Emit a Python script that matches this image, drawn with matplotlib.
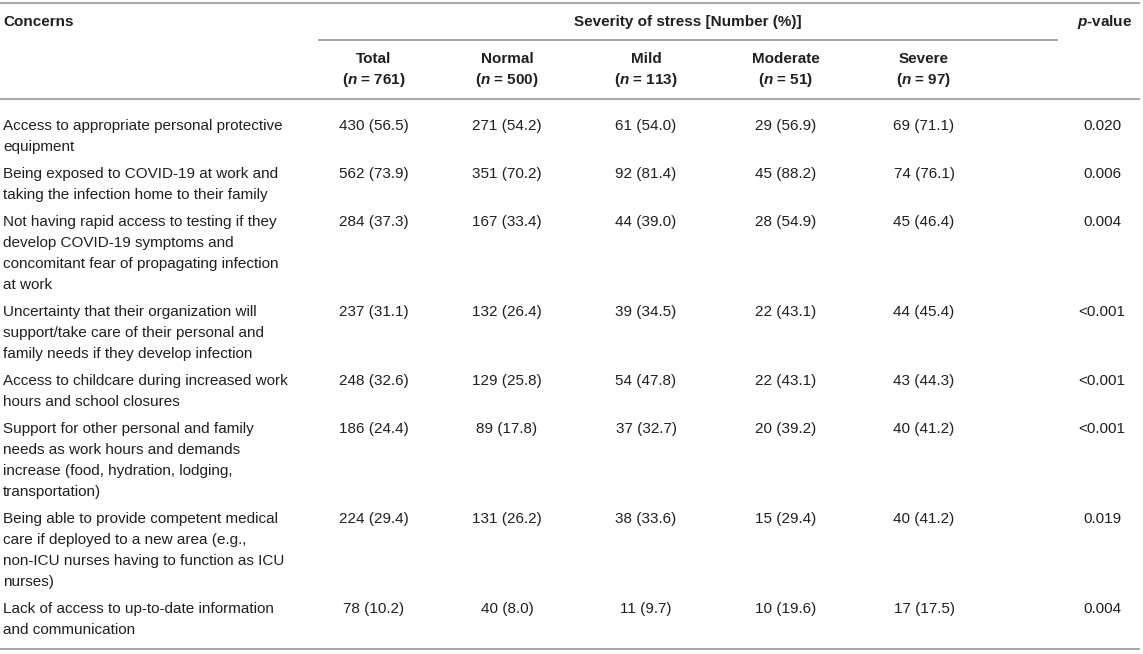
import matplotlib
matplotlib.use("Agg")
import matplotlib.pyplot as plt

plt.rcParams['font.family'] = ['Liberation Sans', 'DejaVu Sans']
plt.rcParams['mathtext.fontset'] = 'custom'
plt.rcParams['mathtext.it'] = 'Liberation Sans:italic:bold'
plt.rcParams['mathtext.rm'] = 'Liberation Sans:bold'
plt.rcParams['mathtext.bf'] = 'Liberation Sans:bold'

# ---------------- data ----------------
concerns = [
    ["Access to appropriate personal protective", "equipment"],
    ["Being exposed to COVID-19 at work and", "taking the infection home to their family"],
    ["Not having rapid access to testing if they", "develop COVID-19 symptoms and",
     "concomitant fear of propagating infection", "at work"],
    ["Uncertainty that their organization will", "support/take care of their personal and",
     "family needs if they develop infection"],
    ["Access to childcare during increased work", "hours and school closures"],
    ["Support for other personal and family", "needs as work hours and demands",
     "increase (food, hydration, lodging,", "transportation)"],
    ["Being able to provide competent medical", "care if deployed to a new area (e.g.,",
     "non-ICU nurses having to function as ICU", "nurses)"],
    ["Lack of access to up-to-date information", "and communication"],
]
groups = ["Total", "Normal", "Mild", "Moderate", "Severe"]
group_n = [761, 500, 113, 51, 97]

total_n = [430, 562, 284, 237, 248, 186, 224, 78]
total_pct = [56.5, 73.9, 37.3, 31.1, 32.6, 24.4, 29.4, 10.2]
normal_n = [271, 351, 167, 132, 129, 89, 131, 40]
normal_pct = [54.2, 70.2, 33.4, 26.4, 25.8, 17.8, 26.2, 8.0]
mild_n = [61, 92, 44, 39, 54, 37, 38, 11]
mild_pct = [54.0, 81.4, 39.0, 34.5, 47.8, 32.7, 33.6, 9.7]
moderate_n = [29, 45, 28, 22, 22, 20, 15, 10]
moderate_pct = [56.9, 88.2, 54.9, 43.1, 43.1, 39.2, 29.4, 19.6]
severe_n = [69, 74, 45, 44, 43, 40, 40, 17]
severe_pct = [71.1, 76.1, 46.4, 45.4, 44.3, 41.2, 41.2, 17.5]
p_values = ["0.020", "0.006", "0.004", "<0.001", "<0.001", "<0.001", "0.019", "0.004"]

# ---------------- drawing ----------------
W, H = 1143, 654
fig = plt.figure(figsize=(W / 100, H / 100), dpi=100)
ax = fig.add_axes([0, 0, 1, 1])
ax.set_xlim(0, W)
ax.set_ylim(H, 0)
ax.axis('off')

txt = '#231f20'
rule = '#a8a8a8'
fs = 11

col_x = [374, 507, 646, 786, 924]
p_x = 1102
left_x = 3

# rules
ax.hlines(3, 0, W - 3, color=rule, lw=1.5)
ax.hlines(40, 318, 1058, color=rule, lw=1.5)
ax.hlines(99, 0, W - 3, color=rule, lw=1.5)
ax.hlines(649, 0, W - 3, color=rule, lw=1.5)

# header
ax.text(left_x, 22, "Concerns", fontsize=fs, fontweight='bold', color=txt, ha='left', va='center')
ax.text(688, 22, "Severity of stress [Number (%)]", fontsize=fs, fontweight='bold',
        color=txt, ha='center', va='center')
ax.text(p_x + 3, 22, r"$p$-value", fontsize=fs, fontweight='bold', color=txt,
        ha='center', va='center')
for x, g, n in zip(col_x, groups, group_n):
    ax.text(x, 59, g, fontsize=fs, fontweight='bold', color=txt, ha='center', va='center')
    ax.text(x, 80, r"($n$ = %d)" % n, fontsize=fs, fontweight='bold', color=txt,
            ha='center', va='center')

# body
cols = [(total_n, total_pct), (normal_n, normal_pct), (mild_n, mild_pct),
        (moderate_n, moderate_pct), (severe_n, severe_pct)]
line_h = 21
row_gap = 6
y = 126
for i, lines in enumerate(concerns):
    for k, line in enumerate(lines):
        ax.text(left_x, y + k * line_h, line, fontsize=fs, color=txt, ha='left', va='center')
    for x, (ns, pcts) in zip(col_x, cols):
        ax.text(x, y, "%d (%.1f)" % (ns[i], pcts[i]), fontsize=fs, color=txt,
                ha='center', va='center')
    ax.text(p_x, y, p_values[i], fontsize=fs, color=txt, ha='center', va='center')
    y += len(lines) * line_h + row_gap

fig.savefig("out.png", dpi=100)
